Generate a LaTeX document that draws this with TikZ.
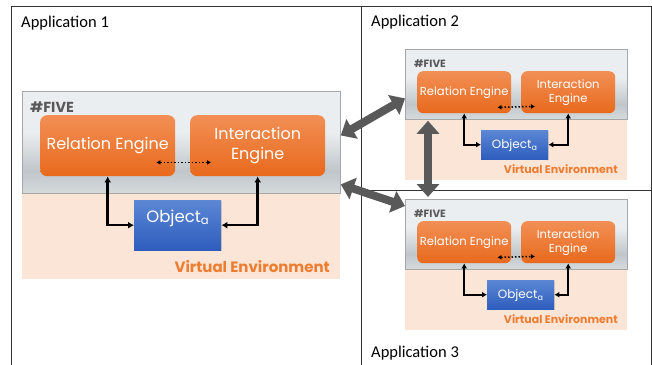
\documentclass[tikz,border=0pt]{standalone}
\usepackage{fontspec}
\setmainfont{Carlito}
\newfontfamily\gothic{Poppins}
\usetikzlibrary{arrows.meta,shadows}

\definecolor{veorange}{HTML}{ED7D31}
\definecolor{vepeach}{HTML}{FBE5D6}
\definecolor{fivetext}{HTML}{595959}
\definecolor{linkgray}{HTML}{595959}
\definecolor{engtop}{HTML}{F28F55}
\definecolor{engbot}{HTML}{E8691C}
\definecolor{objtop}{HTML}{5B87D4}
\definecolor{objbot}{HTML}{2E5DBD}
\definecolor{fivehi}{HTML}{EBEEF0}
\definecolor{fivemid}{HTML}{D5DADD}
\definecolor{fivelo}{HTML}{C0C6CA}

\pgfdeclareverticalshading{fiveshade}{100bp}{color(0bp)=(fivemid); color(25bp)=(fivemid); color(36bp)=(fivelo); color(55bp)=(fivehi); color(100bp)=(fivehi)}

\begin{document}
\begin{tikzpicture}[x=1pt,y=-1pt,
  frame/.style={draw=black!80, line width=1pt},
  applabel/.style={anchor=base west, inner sep=0pt, font=\fontsize{16.5}{19}\selectfont},
  vearea/.style={fill=vepeach, anchor=north west, inner sep=0pt},
  fivebox/.style={draw=black!35, line width=0.8pt, shading=fiveshade, anchor=north west, inner sep=0pt,
    drop shadow={opacity=0.2, shadow xshift=1pt, shadow yshift=-1pt}},
  fivelabel/.style={anchor=base west, inner sep=0pt, text=fivetext, font=\gothic\bfseries},
  engbox/.style={rounded corners=7pt, top color=engtop, bottom color=engbot, text=white,
    anchor=north west, inner sep=0pt, align=center},
  objbox/.style={top color=objtop, bottom color=objbot, text=white, anchor=north west, inner sep=0pt,
    drop shadow={opacity=0.25, shadow xshift=1pt, shadow yshift=-1pt}},
  vetext/.style={anchor=base east, inner sep=0pt, text=veorange, font=\gothic\bfseries},
  link/.style={line width=2.5pt, <->, >={Latex[length=6pt,width=7pt]}},
  sync/.style={dotted, line width=1.5pt, <->, >={Latex[length=4pt,width=5pt]}},
  bigarrow/.style={draw=linkgray, line width=8pt, arrows={Triangle[length=13pt,width=22pt]-Triangle[length=13pt,width=22pt]}}
]

\useasboundingbox (0,0) rectangle (652,364);

  \draw[frame] (11,366) -- (11,6) -- (651,6) -- (651,366);
  \draw[frame] (361,6) -- (361,366);
  \draw[frame] (361,190) -- (651,190);

  \node[applabel] (app1) at (21,27) {Application 1};
  \node[applabel] (app2) at (371,26) {Application 2};
  \node[applabel] (app3) at (371,357) {Application 3};

  \node[vearea, minimum width=318pt, minimum height=188pt] (area1) at (22,91) {};
  \node[fivebox, minimum width=318pt, minimum height=102pt] (five1) at (22,91) {};
  \node[fivelabel, font=\gothic\bfseries\fontsize{14.5}{16}\selectfont] (lab1) at (30,112) {\#FIVE};
  \node[engbox, minimum width=135pt, minimum height=61pt, font=\gothic\fontsize{16}{20}\selectfont] (rel1) at (40,115) {Relation Engine};
  \node[engbox, minimum width=135pt, minimum height=61pt, font=\gothic\fontsize{16}{20}\selectfont] (int1) at (190,115) {Interaction\\Engine};
  \node[objbox, minimum width=87pt, text height=22pt, text depth=28pt, font=\gothic\fontsize{16.5}{18}\selectfont] (obj1) at (134,200) {Object\textsubscript{a}};
  \node[vetext, font=\gothic\bfseries\fontsize{15}{18}\selectfont] (ve1) at (330,272) {Virtual Environment};

  \draw[link] (rel1.south) |- (obj1.west);
  \draw[link] (int1.south) |- (obj1.east);
  \draw[sync] ([xshift=-19pt,yshift=14pt]rel1.south east) -- ([xshift=21pt,yshift=14pt]int1.south west);

  \foreach \n/\t/\o in {2/49/481, 3/199/487} {
    \node[vearea, minimum width=222pt, minimum height=131pt] (area\n) at (405,\t) {};
    \node[fivebox, minimum width=222pt, minimum height=70pt] (five\n) at (405,\t) {};
    \node[fivelabel, font=\gothic\bfseries\fontsize{10.5}{12}\selectfont] (lab\n) at (414,\t+18) {\#FIVE};
    \node[engbox, rounded corners=6pt, minimum width=94pt, minimum height=42pt, font=\gothic\fontsize{11.6}{14}\selectfont] (rel\n) at (417,\t+22) {Relation Engine};
    \node[engbox, rounded corners=6pt, minimum width=94pt, minimum height=42pt, font=\gothic\fontsize{11.6}{14}\selectfont] (int\n) at (521,\t+22) {Interaction\\Engine};
    \node[objbox, minimum width=67pt, text height=18pt, text depth=11pt, font=\gothic\fontsize{12}{14}\selectfont] (obj\n) at (\o,\t+81) {Object\textsubscript{a}};
    \node[vetext, font=\gothic\bfseries\fontsize{11}{13}\selectfont] (ve\n) at (618,\t+124) {Virtual Environment};
    \draw[link, line width=2pt, >={Latex[length=5pt,width=6pt]}] (rel\n.south) |- (obj\n.west);
    \draw[link, line width=2pt, >={Latex[length=5pt,width=6pt]}] (int\n.south) |- (obj\n.east);
    \draw[sync] ([xshift=-14pt,yshift=6pt]rel\n.south east) -- ([xshift=14pt,yshift=7pt]int\n.south west);
  }

  \draw[bigarrow] ([yshift=7pt]five1.east) -- ([yshift=-14pt]five2.west);
  \draw[bigarrow] ([yshift=-42pt]five1.east) -- ([yshift=-7pt]five3.north west);
  \draw[bigarrow] ([xshift=23pt,yshift=-1pt]five2.south west) -- ([xshift=23pt,yshift=2pt]five3.north west);

\end{tikzpicture}
\end{document}
